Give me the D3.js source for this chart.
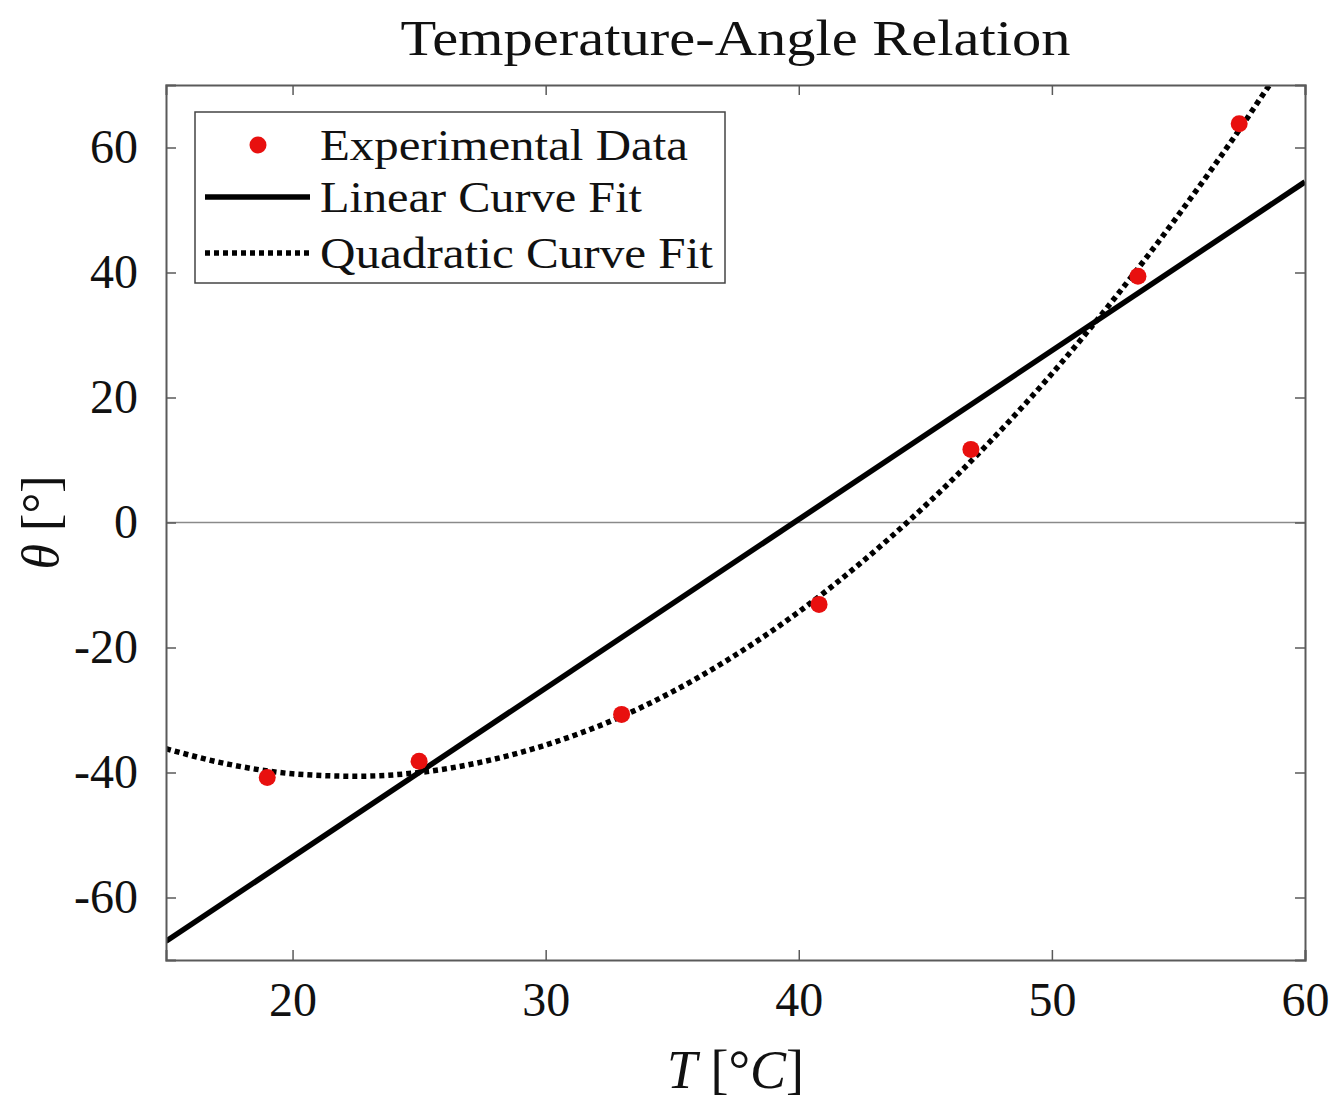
<!DOCTYPE html>
<html>
<head>
<meta charset="utf-8">
<script src="https://cdn.jsdelivr.net/npm/d3@7"></script>
<style>
  body { margin: 0; background: #fff; }
  text { font-family: "Liberation Serif", "DejaVu Serif", serif; fill: #111; }
</style>
</head>
<body>
<div id="plot"></div>
<script>
// chart size and margins
const svgWidth = 1334;
const svgHeight = 1101;
const margin = {top: 85, right: 29, bottom: 141, left: 166};
const w = svgWidth - margin.left - margin.right;
const h = svgHeight - margin.top - margin.bottom;

// data
const tempData = [19.0, 25.0, 33.0, 40.8, 46.8, 53.4, 57.4];
const angleData = [-40.8, -38.2, -30.7, -13.1, 11.7, 39.4, 63.8];

// linear fit line (end points read at the axes edges)
const linX = [15, 60];
const linY = [-67.0, 54.5];

// quadratic fit, points
const quadX = [15, 17.5, 20, 22.5, 25, 27.5, 30, 32.5, 35, 37.5, 40, 42.5, 45, 47.5, 50, 52.5, 55, 57.5, 58.6, 59.5];
const quadY = [-36.2, -38.7, -40.2, -40.6, -40.0, -38.3, -35.6, -31.9, -27.1, -21.2, -14.3, -6.3, 2.7, 12.7, 23.8, 36.0, 49.2, 63.4, 70.0, 75.0];

const xTicks = [20, 30, 40, 50, 60];
const yTicks = [-60, -40, -20, 0, 20, 40, 60];
const legendLabels = ["Experimental Data", "Linear Curve Fit", "Quadratic Curve Fit"];

let svg = d3.select("#plot")
  .append("svg")
  .attr("width", svgWidth)
  .attr("height", svgHeight);

let g = svg.append("g")
  .attr("transform", "translate(" + margin.left + "," + margin.top + ")");

var x = d3.scaleLinear().domain([15, 60]).range([0, w]);
var y = d3.scaleLinear().domain([-70, 70]).range([h, 0]);

g.append("clipPath").attr("id", "clip")
  .append("rect").attr("width", w).attr("height", h);

// zero line
g.append("line")
  .attr("x1", 0).attr("x2", w)
  .attr("y1", y(0)).attr("y2", y(0))
  .attr("stroke", "#8a8a8a").attr("stroke-width", 1.5);

let plotArea = g.append("g").attr("clip-path", "url(#clip)");

// linear fit
plotArea.append("path")
  .datum(d3.zip(linX, linY))
  .attr("d", d3.line().x(d => x(d[0])).y(d => y(d[1])))
  .attr("fill", "none")
  .attr("stroke", "#000")
  .attr("stroke-width", 5.5);

// quadratic fit
plotArea.append("path")
  .datum(d3.zip(quadX, quadY))
  .attr("d", d3.line().x(d => x(d[0])).y(d => y(d[1])).curve(d3.curveMonotoneX))
  .attr("fill", "none")
  .attr("stroke", "#000")
  .attr("stroke-width", 5.5)
  .attr("stroke-dasharray", "5,4");

// experimental points
plotArea.selectAll("circle.pt")
  .data(d3.zip(tempData, angleData))
  .enter()
  .append("circle")
  .attr("class", "pt")
  .attr("cx", d => x(d[0]))
  .attr("cy", d => y(d[1]))
  .attr("r", 8.5)
  .attr("fill", "#e8100f");

// axes: ticks inside, on all four sides
const tickLen = 10;
let xAxis = g.append("g")
  .attr("transform", "translate(0," + h + ")")
  .call(d3.axisBottom(x).tickValues(xTicks).tickSize(-tickLen).tickPadding(22));
let xTop = g.append("g")
  .call(d3.axisTop(x).tickValues(xTicks).tickSize(-tickLen).tickFormat(""));
let yAxis = g.append("g")
  .call(d3.axisLeft(y).tickValues(yTicks).tickSize(-tickLen).tickPadding(28));
let yRight = g.append("g")
  .attr("transform", "translate(" + w + ",0)")
  .call(d3.axisRight(y).tickValues(yTicks).tickSize(-tickLen).tickFormat(""));

[xAxis, xTop, yAxis, yRight].forEach(a => {
  a.select(".domain").attr("stroke", "#5a5a5a").attr("stroke-width", 2);
  a.selectAll(".tick line").attr("stroke", "#5a5a5a").attr("stroke-width", 1.5);
  a.selectAll("text")
    .style("font-family", '"Liberation Serif", serif')
    .style("font-size", "48px")
    .attr("fill", "#222");
});
yAxis.selectAll("text").text(d => d < 0 ? "-" + Math.abs(d) : d);

// title
svg.append("text")
  .attr("x", margin.left + w / 2)
  .attr("y", 55)
  .attr("text-anchor", "middle")
  .style("font-size", "50px")
  .attr("textLength", 670)
  .attr("lengthAdjust", "spacingAndGlyphs")
  .text("Temperature-Angle Relation");

// x label
let xl = svg.append("text")
  .attr("x", margin.left + w / 2)
  .attr("y", 1088)
  .attr("text-anchor", "middle")
  .style("font-size", "54px");
xl.append("tspan").style("font-style", "italic").text("T");
xl.append("tspan").text(" [°");
xl.append("tspan").style("font-style", "italic").text("C");
xl.append("tspan").text("]");

// y label
let yl = svg.append("text")
  .attr("transform", "translate(58," + (margin.top + y(0)) + ") rotate(-90)")
  .attr("text-anchor", "middle")
  .style("font-size", "52px");
yl.append("tspan").style("font-style", "italic").text("θ");
yl.append("tspan").text(" [°]");

// legend
let legend = g.append("g").attr("transform", "translate(" + (195 - margin.left) + "," + (112 - margin.top) + ")");
legend.append("rect")
  .attr("width", 530).attr("height", 171)
  .attr("fill", "#fff")
  .attr("stroke", "#444").attr("stroke-width", 1.5);

const rowY = [33, 85, 141];
const labelWidth = [368, 322, 393];
legend.append("circle").attr("cx", 63).attr("cy", rowY[0]).attr("r", 8.5).attr("fill", "#e8100f");
legend.append("line")
  .attr("x1", 10).attr("x2", 115).attr("y1", rowY[1]).attr("y2", rowY[1])
  .attr("stroke", "#000").attr("stroke-width", 5.5);
legend.append("line")
  .attr("x1", 10).attr("x2", 115).attr("y1", rowY[2]).attr("y2", rowY[2])
  .attr("stroke", "#000").attr("stroke-width", 5.5).attr("stroke-dasharray", "5,4");

legend.selectAll("text.lab")
  .data(legendLabels)
  .enter()
  .append("text")
  .attr("class", "lab")
  .attr("x", 125)
  .attr("y", (d, i) => rowY[i] + 15)
  .style("font-size", "44px")
  .attr("textLength", (d, i) => labelWidth[i])
  .attr("lengthAdjust", "spacingAndGlyphs")
  .text(d => d);
</script>
</body>
</html>
